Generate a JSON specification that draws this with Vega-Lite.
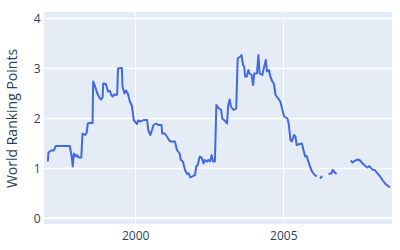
{
  "$schema": "https://vega.github.io/schema/vega-lite/v6.json",
  "width": 348,
  "height": 212,
  "autosize": {"type": "none"},
  "padding": {"left": 44, "top": 12, "right": 8, "bottom": 26},
  "background": "white",
  "config": {
    "view": {"fill": "#E5ECF6", "stroke": null},
    "font": "Open Sans",
    "axis": {
      "domain": false,
      "ticks": false,
      "grid": true,
      "gridColor": "white",
      "gridWidth": 1,
      "gridOpacity": 1,
      "labelColor": "#2a3f5f",
      "labelFontSize": 12,
      "labelFont": "Open Sans",
      "titleColor": "#2a3f5f",
      "titleFont": "Open Sans",
      "titleFontSize": 14,
      "titleFontWeight": "normal"
    }
  },
  "data": {
    "values": [
      {"year": 1997.05, "pts": 1.13, "seg": 1},
      {"year": 1997.07, "pts": 1.31, "seg": 1},
      {"year": 1997.16, "pts": 1.35, "seg": 1},
      {"year": 1997.25, "pts": 1.35, "seg": 1},
      {"year": 1997.32, "pts": 1.44, "seg": 1},
      {"year": 1997.79, "pts": 1.44, "seg": 1},
      {"year": 1997.85, "pts": 1.25, "seg": 1},
      {"year": 1997.89, "pts": 1.03, "seg": 1},
      {"year": 1997.93, "pts": 1.29, "seg": 1},
      {"year": 1998.0, "pts": 1.23, "seg": 1},
      {"year": 1998.04, "pts": 1.26, "seg": 1},
      {"year": 1998.09, "pts": 1.21, "seg": 1},
      {"year": 1998.18, "pts": 1.21, "seg": 1},
      {"year": 1998.22, "pts": 1.69, "seg": 1},
      {"year": 1998.31, "pts": 1.66, "seg": 1},
      {"year": 1998.36, "pts": 1.71, "seg": 1},
      {"year": 1998.4, "pts": 1.89, "seg": 1},
      {"year": 1998.45, "pts": 1.9, "seg": 1},
      {"year": 1998.56, "pts": 1.9, "seg": 1},
      {"year": 1998.58, "pts": 2.73, "seg": 1},
      {"year": 1998.63, "pts": 2.66, "seg": 1},
      {"year": 1998.72, "pts": 2.49, "seg": 1},
      {"year": 1998.81, "pts": 2.39, "seg": 1},
      {"year": 1998.85, "pts": 2.37, "seg": 1},
      {"year": 1998.9, "pts": 2.41, "seg": 1},
      {"year": 1998.92, "pts": 2.69, "seg": 1},
      {"year": 1999.01, "pts": 2.68, "seg": 1},
      {"year": 1999.08, "pts": 2.53, "seg": 1},
      {"year": 1999.15, "pts": 2.54, "seg": 1},
      {"year": 1999.19, "pts": 2.46, "seg": 1},
      {"year": 1999.24, "pts": 2.43, "seg": 1},
      {"year": 1999.28, "pts": 2.47, "seg": 1},
      {"year": 1999.35, "pts": 2.46, "seg": 1},
      {"year": 1999.39, "pts": 2.47, "seg": 1},
      {"year": 1999.42, "pts": 2.99, "seg": 1},
      {"year": 1999.51, "pts": 3.0, "seg": 1},
      {"year": 1999.55, "pts": 3.0, "seg": 1},
      {"year": 1999.57, "pts": 2.63, "seg": 1},
      {"year": 1999.64, "pts": 2.49, "seg": 1},
      {"year": 1999.69, "pts": 2.55, "seg": 1},
      {"year": 1999.75, "pts": 2.49, "seg": 1},
      {"year": 1999.82, "pts": 2.33, "seg": 1},
      {"year": 1999.89, "pts": 2.24, "seg": 1},
      {"year": 1999.95, "pts": 1.96, "seg": 1},
      {"year": 2000.06, "pts": 1.88, "seg": 1},
      {"year": 2000.1, "pts": 1.95, "seg": 1},
      {"year": 2000.19, "pts": 1.93, "seg": 1},
      {"year": 2000.28, "pts": 1.96, "seg": 1},
      {"year": 2000.4, "pts": 1.96, "seg": 1},
      {"year": 2000.44, "pts": 1.76, "seg": 1},
      {"year": 2000.51, "pts": 1.66, "seg": 1},
      {"year": 2000.55, "pts": 1.73, "seg": 1},
      {"year": 2000.62, "pts": 1.86, "seg": 1},
      {"year": 2000.71, "pts": 1.89, "seg": 1},
      {"year": 2000.78, "pts": 1.86, "seg": 1},
      {"year": 2000.89, "pts": 1.86, "seg": 1},
      {"year": 2000.91, "pts": 1.69, "seg": 1},
      {"year": 2001.0, "pts": 1.69, "seg": 1},
      {"year": 2001.07, "pts": 1.63, "seg": 1},
      {"year": 2001.11, "pts": 1.59, "seg": 1},
      {"year": 2001.18, "pts": 1.53, "seg": 1},
      {"year": 2001.34, "pts": 1.53, "seg": 1},
      {"year": 2001.41, "pts": 1.36, "seg": 1},
      {"year": 2001.5, "pts": 1.29, "seg": 1},
      {"year": 2001.54, "pts": 1.16, "seg": 1},
      {"year": 2001.61, "pts": 1.13, "seg": 1},
      {"year": 2001.68, "pts": 0.96, "seg": 1},
      {"year": 2001.75, "pts": 0.88, "seg": 1},
      {"year": 2001.81, "pts": 0.89, "seg": 1},
      {"year": 2001.86, "pts": 0.81, "seg": 1},
      {"year": 2001.95, "pts": 0.84, "seg": 1},
      {"year": 2002.02, "pts": 0.86, "seg": 1},
      {"year": 2002.06, "pts": 1.03, "seg": 1},
      {"year": 2002.11, "pts": 1.06, "seg": 1},
      {"year": 2002.18, "pts": 1.23, "seg": 1},
      {"year": 2002.24, "pts": 1.21, "seg": 1},
      {"year": 2002.31, "pts": 1.09, "seg": 1},
      {"year": 2002.35, "pts": 1.16, "seg": 1},
      {"year": 2002.42, "pts": 1.13, "seg": 1},
      {"year": 2002.47, "pts": 1.16, "seg": 1},
      {"year": 2002.53, "pts": 1.13, "seg": 1},
      {"year": 2002.58, "pts": 1.26, "seg": 1},
      {"year": 2002.63, "pts": 1.13, "seg": 1},
      {"year": 2002.69, "pts": 1.13, "seg": 1},
      {"year": 2002.74, "pts": 2.26, "seg": 1},
      {"year": 2002.83, "pts": 2.19, "seg": 1},
      {"year": 2002.9, "pts": 2.16, "seg": 1},
      {"year": 2002.94, "pts": 1.99, "seg": 1},
      {"year": 2003.05, "pts": 1.93, "seg": 1},
      {"year": 2003.1, "pts": 1.89, "seg": 1},
      {"year": 2003.14, "pts": 2.26, "seg": 1},
      {"year": 2003.19, "pts": 2.37, "seg": 1},
      {"year": 2003.23, "pts": 2.23, "seg": 1},
      {"year": 2003.32, "pts": 2.16, "seg": 1},
      {"year": 2003.41, "pts": 2.19, "seg": 1},
      {"year": 2003.46, "pts": 3.19, "seg": 1},
      {"year": 2003.55, "pts": 3.23, "seg": 1},
      {"year": 2003.59, "pts": 3.26, "seg": 1},
      {"year": 2003.64, "pts": 3.06, "seg": 1},
      {"year": 2003.68, "pts": 3.03, "seg": 1},
      {"year": 2003.71, "pts": 2.83, "seg": 1},
      {"year": 2003.77, "pts": 2.83, "seg": 1},
      {"year": 2003.82, "pts": 2.96, "seg": 1},
      {"year": 2003.86, "pts": 2.89, "seg": 1},
      {"year": 2003.93, "pts": 2.86, "seg": 1},
      {"year": 2003.98, "pts": 2.66, "seg": 1},
      {"year": 2004.02, "pts": 2.89, "seg": 1},
      {"year": 2004.11, "pts": 2.89, "seg": 1},
      {"year": 2004.16, "pts": 3.26, "seg": 1},
      {"year": 2004.2, "pts": 2.89, "seg": 1},
      {"year": 2004.29, "pts": 2.86, "seg": 1},
      {"year": 2004.34, "pts": 2.99, "seg": 1},
      {"year": 2004.41, "pts": 3.16, "seg": 1},
      {"year": 2004.45, "pts": 2.93, "seg": 1},
      {"year": 2004.52, "pts": 2.96, "seg": 1},
      {"year": 2004.56, "pts": 2.83, "seg": 1},
      {"year": 2004.63, "pts": 2.73, "seg": 1},
      {"year": 2004.68, "pts": 2.69, "seg": 1},
      {"year": 2004.74, "pts": 2.46, "seg": 1},
      {"year": 2004.83, "pts": 2.39, "seg": 1},
      {"year": 2004.9, "pts": 2.33, "seg": 1},
      {"year": 2004.97, "pts": 2.16, "seg": 1},
      {"year": 2005.03, "pts": 2.03, "seg": 1},
      {"year": 2005.09, "pts": 2.01, "seg": 1},
      {"year": 2005.14, "pts": 1.99, "seg": 1},
      {"year": 2005.18, "pts": 1.89, "seg": 1},
      {"year": 2005.22, "pts": 1.69, "seg": 1},
      {"year": 2005.24, "pts": 1.56, "seg": 1},
      {"year": 2005.29, "pts": 1.53, "seg": 1},
      {"year": 2005.36, "pts": 1.66, "seg": 1},
      {"year": 2005.41, "pts": 1.63, "seg": 1},
      {"year": 2005.45, "pts": 1.46, "seg": 1},
      {"year": 2005.56, "pts": 1.48, "seg": 1},
      {"year": 2005.63, "pts": 1.49, "seg": 1},
      {"year": 2005.68, "pts": 1.36, "seg": 1},
      {"year": 2005.74, "pts": 1.23, "seg": 1},
      {"year": 2005.79, "pts": 1.24, "seg": 1},
      {"year": 2005.83, "pts": 1.16, "seg": 1},
      {"year": 2005.9, "pts": 1.03, "seg": 1},
      {"year": 2005.97, "pts": 0.93, "seg": 1},
      {"year": 2006.06, "pts": 0.86, "seg": 1},
      {"year": 2006.13, "pts": 0.83, "seg": 1},
      {"year": 2006.24, "pts": 0.79, "seg": 2},
      {"year": 2006.31, "pts": 0.84, "seg": 2},
      {"year": 2006.53, "pts": 0.88, "seg": 3},
      {"year": 2006.62, "pts": 0.89, "seg": 3},
      {"year": 2006.67, "pts": 0.96, "seg": 3},
      {"year": 2006.74, "pts": 0.91, "seg": 3},
      {"year": 2006.8, "pts": 0.88, "seg": 3},
      {"year": 2007.28, "pts": 1.15, "seg": 4},
      {"year": 2007.34, "pts": 1.11, "seg": 4},
      {"year": 2007.43, "pts": 1.15, "seg": 4},
      {"year": 2007.52, "pts": 1.17, "seg": 4},
      {"year": 2007.59, "pts": 1.15, "seg": 4},
      {"year": 2007.68, "pts": 1.09, "seg": 4},
      {"year": 2007.77, "pts": 1.04, "seg": 4},
      {"year": 2007.84, "pts": 1.01, "seg": 4},
      {"year": 2007.91, "pts": 1.04, "seg": 4},
      {"year": 2008.0, "pts": 0.97, "seg": 4},
      {"year": 2008.09, "pts": 0.96, "seg": 4},
      {"year": 2008.18, "pts": 0.89, "seg": 4},
      {"year": 2008.27, "pts": 0.83, "seg": 4},
      {"year": 2008.36, "pts": 0.75, "seg": 4},
      {"year": 2008.45, "pts": 0.68, "seg": 4},
      {"year": 2008.54, "pts": 0.64, "seg": 4},
      {"year": 2008.6, "pts": 0.61, "seg": 4}
    ]
  },
  "encoding": {
    "x": {
      "field": "year",
      "type": "quantitative",
      "scale": {"domain": [1996.92, 2008.67], "nice": false, "zero": false},
      "axis": {"values": [2000, 2005], "format": "d", "title": null, "labelPadding": 6, "labelFlush": false, "grid": true, "gridColor": "#ffffff", "gridWidth": 1, "gridOpacity": 1}
    },
    "y": {
      "field": "pts",
      "type": "quantitative",
      "scale": {"domain": [-0.12, 4.12], "nice": false},
      "axis": {"values": [0, 1, 2, 3, 4], "format": "d", "title": "World Ranking Points", "labelPadding": 4, "titlePadding": 14, "grid": true, "gridColor": "#ffffff", "gridWidth": 1.5, "gridOpacity": 1}
    }
  },
  "layer": [
    {
      "mark": {"type": "rule", "color": "white", "strokeWidth": 2},
      "encoding": {"x": null, "y": {"datum": 0, "type": "quantitative"}}
    },
    {
      "mark": {"type": "line", "color": "#4169E1", "strokeWidth": 2, "strokeJoin": "round"},
      "encoding": {
        "detail": {"field": "seg"}
      }
    }
  ]
}
